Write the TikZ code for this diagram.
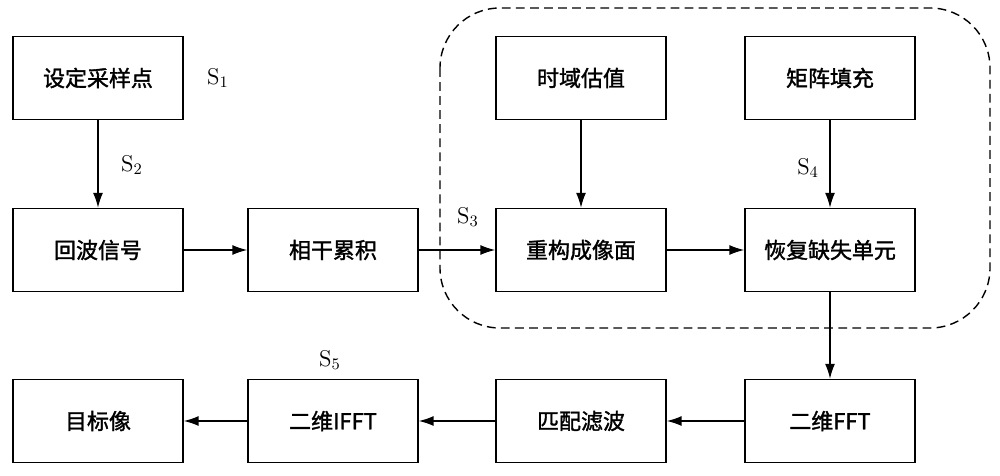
\documentclass[tikz,border=0pt]{standalone}
\usepackage{fontspec}
\newfontfamily\cjk{Noto Sans CJK SC}[FakeBold=1.5]
\usetikzlibrary{arrows.meta}
\tikzset{
  blk/.style={draw,thick,minimum width=3.4cm,minimum height=1.66cm,font=\cjk\fontsize{12.5}{14}\selectfont},
  lbl/.style={font=\fontsize{13}{15}\selectfont},
  arr/.style={-{Latex[length=3mm,width=2mm]},thick}
}
\begin{document}
\begin{tikzpicture}[x=0.02cm,y=-0.02cm]
  \useasboundingbox (0,0) rectangle (1000,476);
  \draw[thick,dash pattern=on 5pt off 3pt,rounded corners=1.2cm] (440,8) rectangle (990,328);
  % row 1
  \node[blk] (set) at (98,78) {设定采样点};
  \node[blk] (time) at (581,78) {时域估值};
  \node[blk] (mat) at (830,78) {矩阵填充};
  % row 2
  \node[blk] (echo) at (98,250) {回波信号};
  \node[blk] (acc) at (333,250) {相干累积};
  \node[blk] (rec) at (581,250) {重构成像面};
  \node[blk] (res) at (830,250) {恢复缺失单元};
  % row 3
  \node[blk] (tgt) at (98,421) {目标像};
  \node[blk] (ifft) at (333,421) {二维IFFT};
  \node[blk] (mf) at (581,421) {匹配滤波};
  \node[blk] (fft) at (830,421) {二维FFT};
  % labels
  \node[lbl] (s1) at (218,78) {S\textsubscript{1}};
  \node[lbl] (s2) at (132,165) {S\textsubscript{2}};
  \node[lbl] (s3) at (468,217) {S\textsubscript{3}};
  \node[lbl] (s4) at (808,168) {S\textsubscript{4}};
  \node[lbl] (s5) at (330,360) {S\textsubscript{5}};
  % connectors
  \draw[arr] (set) -- (echo);
  \draw[arr] (echo) -- (acc);
  \draw[arr] (acc) -- (rec);
  \draw[arr] (time) -- (rec);
  \draw[arr] (mat) -- (res);
  \draw[arr] (rec) -- (res);
  \draw[arr] (res) -- (fft);
  \draw[arr] (fft) -- (mf);
  \draw[arr] (mf) -- (ifft);
  \draw[arr] (ifft) -- (tgt);
\end{tikzpicture}
\end{document}
